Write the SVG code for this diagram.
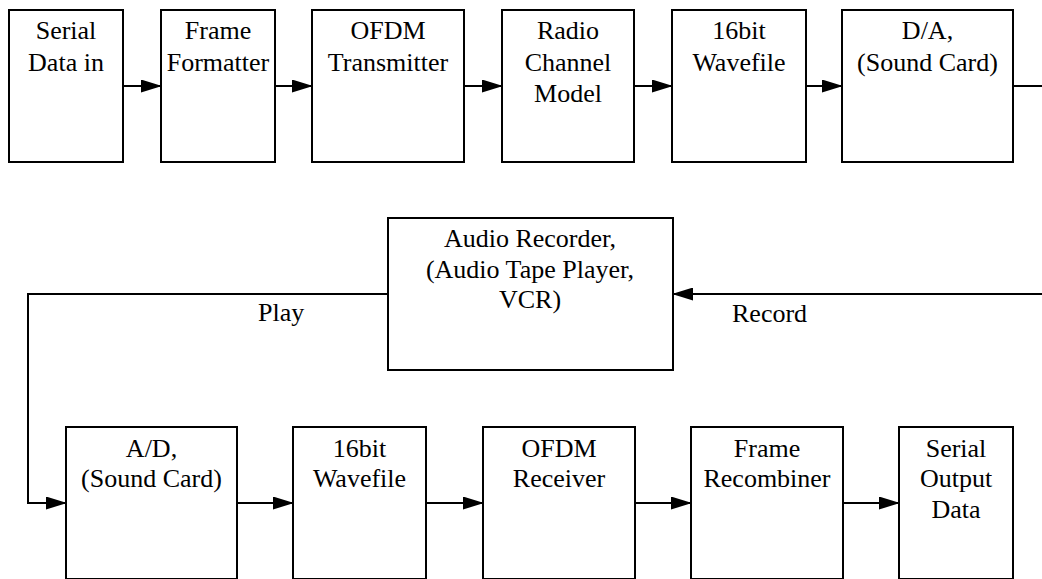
<svg xmlns="http://www.w3.org/2000/svg" width="1042" height="579" viewBox="0 0 1042 579">
  <style>
    .box { fill: #ffffff; stroke: #000000; stroke-width: 2; }
    .wire { fill: none; stroke: #000000; stroke-width: 2; }
    .lbl { font-family: "Liberation Serif", "Times New Roman", serif; font-size: 26px; fill: #000000; text-anchor: middle; }
    .tag { font-family: "Liberation Serif", "Times New Roman", serif; font-size: 26px; fill: #000000; }
  </style>
  <defs>
    <marker id="arrow" markerUnits="userSpaceOnUse" markerWidth="21" markerHeight="13" refX="20" refY="6.5" orient="auto">
      <path d="M0,0 L21,6.5 L0,13 Z" fill="#000000"/>
    </marker>
  </defs>
  <rect width="1042" height="579" fill="#ffffff"/>

  <!-- connectors -->
  <g id="connectors">
    <line class="wire" x1="123" y1="86" x2="161" y2="86" marker-end="url(#arrow)"/>
    <line class="wire" x1="275" y1="86" x2="312" y2="86" marker-end="url(#arrow)"/>
    <line class="wire" x1="464" y1="86" x2="502" y2="86" marker-end="url(#arrow)"/>
    <line class="wire" x1="634" y1="86" x2="672" y2="86" marker-end="url(#arrow)"/>
    <line class="wire" x1="806" y1="86" x2="842" y2="86" marker-end="url(#arrow)"/>
    <line class="wire" x1="1013" y1="86" x2="1042" y2="86"/>
    <line class="wire" x1="1042" y1="294" x2="673" y2="294" marker-end="url(#arrow)"/>
    <polyline class="wire" points="388,294 28,294 28,503 66,503" marker-end="url(#arrow)"/>
    <line class="wire" x1="237" y1="503" x2="293" y2="503" marker-end="url(#arrow)"/>
    <line class="wire" x1="426" y1="503" x2="483" y2="503" marker-end="url(#arrow)"/>
    <line class="wire" x1="635" y1="503" x2="691" y2="503" marker-end="url(#arrow)"/>
    <line class="wire" x1="843" y1="503" x2="899" y2="503" marker-end="url(#arrow)"/>
    <text class="tag" x="258" y="321">Play</text>
    <text class="tag" x="732" y="322">Record</text>
  </g>

  <!-- transmit chain -->
  <g id="serial-in">
    <rect class="box" x="9" y="10" width="114" height="152"/>
    <text class="lbl" x="66" y="39">Serial</text>
    <text class="lbl" x="66" y="71">Data in</text>
  </g>
  <g id="frame-formatter">
    <rect class="box" x="161" y="10" width="114" height="152"/>
    <text class="lbl" x="218" y="39">Frame</text>
    <text class="lbl" x="218" y="71">Formatter</text>
  </g>
  <g id="ofdm-tx">
    <rect class="box" x="312" y="10" width="152" height="152"/>
    <text class="lbl" x="388" y="39">OFDM</text>
    <text class="lbl" x="388" y="71">Transmitter</text>
  </g>
  <g id="radio-channel">
    <rect class="box" x="502" y="10" width="132" height="152"/>
    <text class="lbl" x="568" y="39">Radio</text>
    <text class="lbl" x="568" y="71">Channel</text>
    <text class="lbl" x="568" y="102">Model</text>
  </g>
  <g id="wavefile-tx">
    <rect class="box" x="672" y="10" width="134" height="152"/>
    <text class="lbl" x="739" y="39">16bit</text>
    <text class="lbl" x="739" y="71">Wavefile</text>
  </g>
  <g id="dac">
    <rect class="box" x="842" y="10" width="171" height="152"/>
    <text class="lbl" x="927.5" y="39">D/A,</text>
    <text class="lbl" x="927.5" y="71">(Sound Card)</text>
  </g>

  <!-- recorder -->
  <g id="audio-recorder">
    <rect class="box" x="388" y="218" width="285" height="152"/>
    <text class="lbl" x="530" y="247">Audio Recorder,</text>
    <text class="lbl" x="530" y="278">(Audio Tape Player,</text>
    <text class="lbl" x="530" y="308">VCR)</text>
  </g>

  <!-- receive chain -->
  <g id="adc">
    <rect class="box" x="66" y="427" width="171" height="152"/>
    <text class="lbl" x="151.5" y="457">A/D,</text>
    <text class="lbl" x="151.5" y="487">(Sound Card)</text>
  </g>
  <g id="wavefile-rx">
    <rect class="box" x="293" y="427" width="133" height="152"/>
    <text class="lbl" x="359.5" y="457">16bit</text>
    <text class="lbl" x="359.5" y="487">Wavefile</text>
  </g>
  <g id="ofdm-rx">
    <rect class="box" x="483" y="427" width="152" height="152"/>
    <text class="lbl" x="559" y="457">OFDM</text>
    <text class="lbl" x="559" y="487">Receiver</text>
  </g>
  <g id="frame-recombiner">
    <rect class="box" x="691" y="427" width="152" height="152"/>
    <text class="lbl" x="767" y="457">Frame</text>
    <text class="lbl" x="767" y="487">Recombiner</text>
  </g>
  <g id="serial-out">
    <rect class="box" x="899" y="427" width="114" height="152"/>
    <text class="lbl" x="956" y="457">Serial</text>
    <text class="lbl" x="956" y="487">Output</text>
    <text class="lbl" x="956" y="518">Data</text>
  </g>
</svg>
